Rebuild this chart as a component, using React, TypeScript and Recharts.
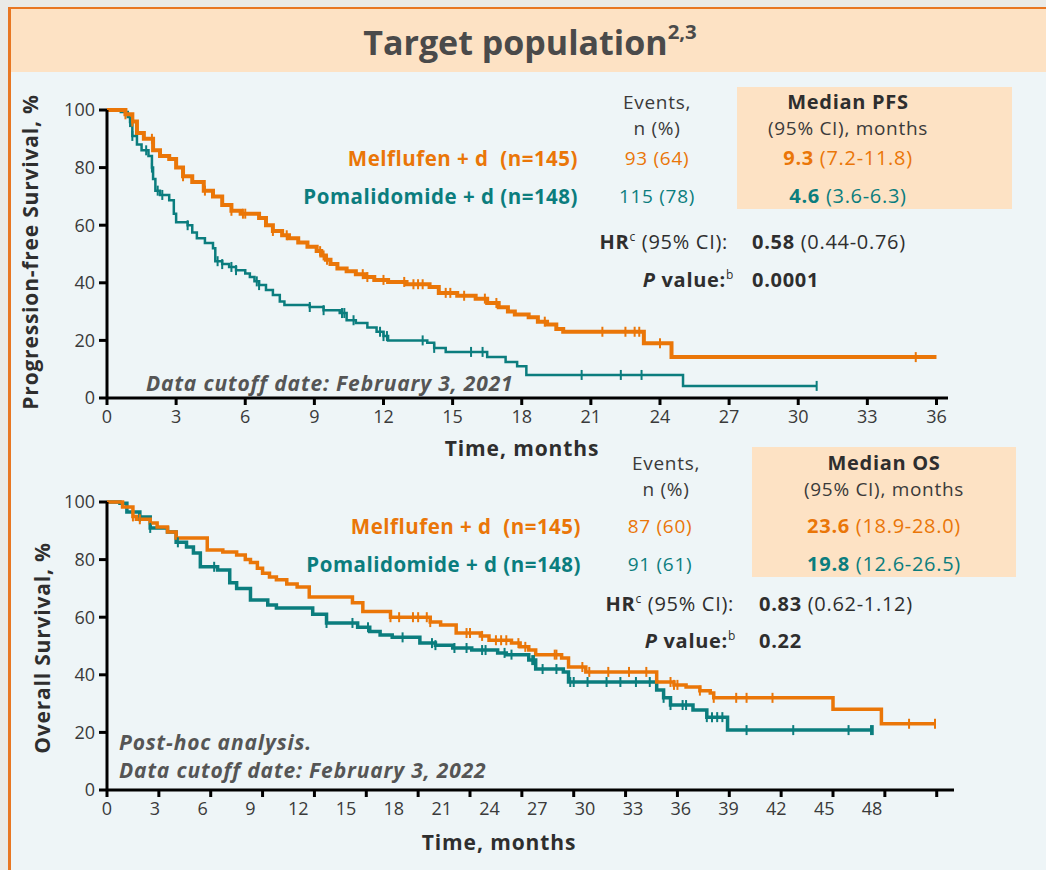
import React from 'react';
import { LineChart, Line, XAxis, YAxis } from 'recharts';

const ORANGE = '#ea7608';
const TEAL = '#0b7d7e';
const INK = '#2e2e2e';
const GREY = '#555555';
const FONT = '"Open Sans", "Noto Sans", sans-serif';

// PFS (cutoff Feb 3, 2021): [month, % surviving]
const pfsMel = [
  [0, 100], [0.8, 98.5], [1.1, 96], [1.3, 92], [1.6, 90], [2.0, 86], [2.3, 84], [2.7, 83], [3.0, 80],
  [3.3, 77], [3.7, 75], [4.2, 72], [4.6, 70], [5.0, 67], [5.4, 65], [5.8, 64], [6.6, 62.5], [6.9, 60],
  [7.2, 58], [7.6, 56.5], [7.9, 55.5], [8.3, 54], [8.7, 52.5], [9.1, 51], [9.3, 49.5], [9.5, 48],
  [9.7, 46.5], [10.0, 45], [10.4, 44], [10.8, 43], [11.2, 42], [11.6, 41], [12.2, 40.3], [13.0, 39.5],
  [14.0, 38.5], [14.4, 36.5], [15.2, 35.5], [16.0, 34.5], [16.5, 33], [17.0, 31.5], [17.4, 30],
  [17.7, 29], [18.3, 28], [18.7, 26.5], [19.1, 25.5], [19.5, 24], [19.8, 23], [23.3, 19], [24.5, 14.2],
  [36, 14.2],
];
const pfsPom = [
  [0, 100], [0.6, 99.3], [0.9, 97.6], [1.0, 95.8], [1.1, 91], [1.3, 88], [1.5, 86], [1.8, 84],
  [1.95, 80], [2.0, 76], [2.1, 72], [2.3, 70.5], [2.7, 68.7], [2.9, 64], [3.0, 61], [3.5, 60],
  [3.7, 57.5], [3.9, 55.5], [4.25, 53.8], [4.6, 52], [4.7, 47.5], [5.0, 46.5], [5.3, 45.5], [5.6, 44.4],
  [6.0, 43.2], [6.2, 42], [6.4, 40.5], [6.6, 39.2], [6.9, 37.5], [7.2, 35.8], [7.5, 33.5], [7.7, 32.3],
  [8.8, 31.6], [9.4, 30.5], [10.1, 29.5], [10.4, 27], [10.8, 26], [11.3, 24.5], [11.7, 23], [12.0, 21.5],
  [12.2, 20], [13.9, 19.2], [14.2, 17.4], [14.7, 16], [16.5, 14.2], [17.3, 12.5], [17.8, 11], [18.2, 8],
  [25.0, 4.2], [30.8, 4.2],
];
const pfsMelCensor = [0.8, 1.1, 1.95, 3.3, 4.25, 5.4, 5.9, 6.0, 7.2, 7.8, 9.25, 9.4, 9.55, 11.1, 11.3, 12.0,
  12.9, 13.3, 13.5, 13.7, 14.7, 14.9, 15.5, 16.4, 16.9, 19.0, 21.5, 22.5, 22.9, 23.1, 24.0, 35.1];
const pfsPomCensor = [1.0, 1.1, 1.7, 1.95, 2.2, 2.4, 3.5, 4.8, 5.0, 5.4, 5.6, 6.5, 6.6, 8.8, 9.4, 10.2, 10.3,
  10.7, 11.85, 12.0, 12.15, 13.7, 14.2, 15.8, 16.3, 20.6, 22.3, 23.2, 30.8];

// OS (cutoff Feb 3, 2022)
const osMel = [
  [0, 100], [0.9, 98.3], [1.5, 95], [1.7, 94], [2.5, 92.7], [2.9, 91.3], [3.5, 89.6], [4.0, 87.5],
  [5.8, 83.3], [6.7, 82.6], [7.5, 81.6], [8.0, 80], [8.3, 79], [8.7, 77], [9.0, 75.3], [9.4, 74],
  [9.8, 73], [10.4, 71.5], [11.0, 70.5], [11.7, 67], [14.2, 65], [14.8, 62], [16.4, 60], [18.7, 58.3],
  [19.3, 57.3], [20.2, 54.5], [21.6, 53.5], [22.1, 52], [23.4, 51], [23.9, 49.7], [24.4, 48.6],
  [24.8, 47], [26.3, 45.8], [26.7, 42.7], [27.7, 41], [31.8, 37.5], [32.8, 36.5], [33.5, 35.8],
  [34.3, 34.5], [34.9, 33.7], [35.1, 32], [42.0, 28], [44.8, 23], [47.9, 23],
];
const osPom = [
  [0, 100], [0.75, 99.6], [1.15, 96.5], [1.9, 94.8], [2.5, 91], [3.5, 89.6], [4.0, 86], [4.6, 84.4],
  [5.0, 82.3], [5.4, 77.5], [6.4, 76.4], [7.1, 72], [7.5, 70], [8.3, 66], [9.3, 64.2], [9.8, 63.2],
  [11.9, 61], [12.7, 58], [14.5, 56.5], [15.2, 55], [15.8, 53.8], [16.5, 53], [18.1, 51], [19.0, 50.3],
  [20.0, 49.3], [21.1, 48.6], [22.6, 47.6], [23.1, 47], [24.4, 45.1], [24.8, 42], [26.4, 41],
  [26.7, 37.5], [31.8, 34.7], [32.2, 32], [32.6, 29.5], [33.9, 27.8], [34.7, 25.3], [35.9, 20.8],
  [44.3, 20.8],
];
const osMelCensor = [1.5, 1.9, 16.4, 16.9, 17.7, 18.0, 18.5, 18.7, 20.8, 21.0, 21.7, 22.5, 22.8, 23.1, 23.8,
  24.2, 25.9, 26.0, 27.5, 27.9, 29.0, 30.2, 31.2, 32.6, 32.8, 33.0, 34.3, 35.1, 36.4, 37.0, 38.5, 46.4, 47.9];
const osPomCensor = [1.9, 2.5, 4.1, 6.2, 12.7, 14.2, 15.1, 17.1, 18.8, 19.0, 20.1, 20.8, 21.7, 21.9, 23.0,
  23.4, 24.6, 24.7, 25.2, 26.0, 26.8, 27.0, 27.8, 28.9, 29.7, 30.6, 31.4, 32.2, 32.6, 33.3, 33.5, 34.7,
  35.0, 35.3, 35.6, 37.0, 39.7, 42.9, 44.2, 44.3];

const pfsTicks = [0, 3, 6, 9, 12, 15, 18, 21, 24, 27, 30, 33, 36];
const osTicks = [0, 3, 6, 9, 12, 15, 18, 21, 24, 27, 30, 33, 36, 39, 42, 45, 48];
const yTicks = [0, 20, 40, 60, 80, 100];

const toRows = (curve: number[][]) => curve.map(([t, s]) => ({ t, s }));

// censor marks sit on the step curve
const censorRows = (curve: number[][], times: number[]) =>
  times.map((t) => {
    let s = curve[0][1];
    for (const [ct, cs] of curve) if (ct <= t) s = cs;
    return { t, s };
  });

const censorDot = (color: string) => (p: any) => (
  <line key={`c-${p.index}`} x1={p.cx} x2={p.cx} y1={p.cy - 5} y2={p.cy + 5} stroke={color} strokeWidth={2} />
);

const tickStyle = { fill: '#3a3a3a', fontSize: 18, fontFamily: FONT };
const axisLine = { stroke: '#000', strokeWidth: 3 };
const tickLine = { stroke: '#000', strokeWidth: 3 };

// the OS time labels in the source sit a little left of their tick marks
const OsTick = (p: any) => (
  <text x={107 + (p.x - 107) * 0.922} y={p.y} dy="0.71em" textAnchor="middle" {...tickStyle}>
    {p.payload.value}
  </text>
);

const Txt = ({ x, y, anchor = 'start', size = 19, weight = 400, color = INK, italic = false, ls = 0.7, children }: any) => {
  const tx = anchor === 'middle' ? '-50%' : anchor === 'end' ? '-100%' : '0';
  return (
    <div
      style={{
        position: 'absolute', left: x, top: y, transform: `translate(${tx}, -50%)`, fontSize: size,
        fontWeight: weight, color, fontStyle: italic ? 'italic' : 'normal', whiteSpace: 'nowrap',
        lineHeight: 1, fontFamily: FONT, letterSpacing: ls,
      }}
    >
      {children}
    </div>
  );
};

const Sup = ({ children }: any) => (
  <sup style={{ fontSize: '0.6em', fontWeight: 400, verticalAlign: '0.7em', lineHeight: 0 }}>{children}</sup>
);

const YTitle = ({ x, y, children }: any) => (
  <div
    style={{
      position: 'absolute', left: x, top: y, transform: 'translate(-50%, -50%) rotate(-90deg)',
      fontSize: 21, fontWeight: 700, color: INK, whiteSpace: 'nowrap', fontFamily: FONT, lineHeight: 1,
      letterSpacing: 0.8,
    }}
  >
    {children}
  </div>
);

export default function App() {
  return (
    <div style={{ position: 'absolute', left: 0, top: 0, width: 1046, height: 870, background: '#eaeae6', overflow: 'hidden' }}>
      <div
        style={{
          position: 'absolute', left: 8, top: 7, right: 0, bottom: 0, background: '#eef5f7',
          borderLeft: '3px solid #e87722', borderTop: '2px solid #e87722',
        }}
      />
      <div style={{ position: 'absolute', left: 11, top: 9, right: 0, height: 63, background: '#fde2c4' }} />
      <div
        style={{
          position: 'absolute', left: 530, top: 42, transform: 'translate(-50%, -50%)', fontSize: 34,
          fontWeight: 700, color: '#4a4a4a', fontFamily: FONT, whiteSpace: 'nowrap', lineHeight: 1,
        }}
      >
        Target population<sup style={{ fontSize: '0.6em', verticalAlign: '0.8em', lineHeight: 0 }}>2,3</sup>
      </div>

      <div style={{ position: 'absolute', left: 737, top: 87, width: 275, height: 122, background: '#fde2c4' }} />
      <div style={{ position: 'absolute', left: 752, top: 447, width: 264, height: 130, background: '#fde2c4' }} />

      <div style={{ position: 'absolute', left: 0, top: 0 }}>
        <LineChart width={1046} height={440} margin={{ top: 110, right: 98, bottom: 12, left: 47 }}>
          <XAxis
            type="number" dataKey="t" domain={[0, 36.5]} ticks={pfsTicks} allowDataOverflow
            axisLine={axisLine} tickLine={tickLine} tickSize={7} tickMargin={5} tick={tickStyle} height={30}
          />
          <YAxis
            type="number" domain={[0, 100]} ticks={yTicks} width={60}
            axisLine={axisLine} tickLine={tickLine} tickSize={8} tickMargin={4} tick={tickStyle}
          />
          <Line data={toRows(pfsPom)} dataKey="s" type="stepAfter" stroke={TEAL} strokeWidth={2.5} dot={false} isAnimationActive={false} />
          <Line data={toRows(pfsMel)} dataKey="s" type="stepAfter" stroke={ORANGE} strokeWidth={4} dot={false} isAnimationActive={false} />
          <Line data={censorRows(pfsPom, pfsPomCensor)} dataKey="s" stroke="none" dot={censorDot(TEAL)} isAnimationActive={false} />
          <Line data={censorRows(pfsMel, pfsMelCensor)} dataKey="s" stroke="none" dot={censorDot(ORANGE)} isAnimationActive={false} />
        </LineChart>
      </div>

      <div style={{ position: 'absolute', left: 0, top: 440 }}>
        <LineChart width={1046} height={430} margin={{ top: 62, right: 92, bottom: 50, left: 47 }}>
          <XAxis
            type="number" dataKey="t" domain={[0, 49]} ticks={osTicks} allowDataOverflow
            axisLine={axisLine} tickLine={tickLine} tickSize={7} tickMargin={5} tick={<OsTick />} height={30}
          />
          <YAxis
            type="number" domain={[0, 100]} ticks={yTicks} width={60}
            axisLine={axisLine} tickLine={tickLine} tickSize={8} tickMargin={4} tick={tickStyle}
          />
          <Line data={toRows(osPom)} dataKey="s" type="stepAfter" stroke={TEAL} strokeWidth={3.5} dot={false} isAnimationActive={false} />
          <Line data={toRows(osMel)} dataKey="s" type="stepAfter" stroke={ORANGE} strokeWidth={3.5} dot={false} isAnimationActive={false} />
          <Line data={censorRows(osPom, osPomCensor)} dataKey="s" stroke="none" dot={censorDot(TEAL)} isAnimationActive={false} />
          <Line data={censorRows(osMel, osMelCensor)} dataKey="s" stroke="none" dot={censorDot(ORANGE)} isAnimationActive={false} />
        </LineChart>
      </div>

      <YTitle x={30} y={252}>Progression-free Survival, %</YTitle>
      <YTitle x={42} y={648}>Overall Survival, %</YTitle>
      <Txt x={522} y={448} anchor="middle" size={21} weight={700} ls={0.9}>Time, months</Txt>
      <Txt x={499} y={842} anchor="middle" size={21} weight={700} ls={0.9}>Time, months</Txt>

      {/* PFS panel text */}
      <Txt x={657} y={102} anchor="middle" color="#3a3a3a">Events,</Txt>
      <Txt x={657} y={128} anchor="middle" color="#3a3a3a">n (%)</Txt>
      <Txt x={848} y={102} anchor="middle" size={20} weight={700}>Median PFS</Txt>
      <Txt x={848} y={128} anchor="middle" color="#3a3a3a">(95% CI), months</Txt>
      <Txt x={578} y={158} anchor="end" size={20.5} weight={700} ls={0.5} color={ORANGE}>Melflufen + d&nbsp; (n=145)</Txt>
      <Txt x={578} y={196} anchor="end" size={20.5} weight={700} ls={0.5} color={TEAL}>Pomalidomide + d (n=148)</Txt>
      <Txt x={657} y={158} anchor="middle" color={ORANGE}>93 (64)</Txt>
      <Txt x={657} y={196} anchor="middle" color={TEAL}>115 (78)</Txt>
      <Txt x={848} y={158} anchor="middle" size={20} color={ORANGE}><b>9.3</b> (7.2-11.8)</Txt>
      <Txt x={848} y={196} anchor="middle" size={20} color={TEAL}><b>4.6</b> (3.6-6.3)</Txt>
      <Txt x={728} y={242} anchor="end" size={20}><b>HR</b><Sup>c</Sup> (95% CI):</Txt>
      <Txt x={752} y={242} size={20}><b>0.58</b> (0.44-0.76)</Txt>
      <Txt x={734} y={280} anchor="end" size={20} weight={700}><i>P</i> value:<Sup>b</Sup></Txt>
      <Txt x={752} y={280} size={20} weight={700}>0.0001</Txt>
      <Txt x={146} y={383} size={21} weight={700} ls={0.85} italic color={GREY}>Data cutoff date: February 3, 2021</Txt>

      {/* OS panel text */}
      <Txt x={666} y={463} anchor="middle" color="#3a3a3a">Events,</Txt>
      <Txt x={666} y={489} anchor="middle" color="#3a3a3a">n (%)</Txt>
      <Txt x={884} y={463} anchor="middle" size={20} weight={700}>Median OS</Txt>
      <Txt x={884} y={489} anchor="middle" color="#3a3a3a">(95% CI), months</Txt>
      <Txt x={581} y={526} anchor="end" size={20.5} weight={700} ls={0.5} color={ORANGE}>Melflufen + d&nbsp; (n=145)</Txt>
      <Txt x={581} y={564} anchor="end" size={20.5} weight={700} ls={0.5} color={TEAL}>Pomalidomide + d (n=148)</Txt>
      <Txt x={660} y={526} anchor="middle" color={ORANGE}>87 (60)</Txt>
      <Txt x={660} y={564} anchor="middle" color={TEAL}>91 (61)</Txt>
      <Txt x={884} y={526} anchor="middle" size={20} color={ORANGE}><b>23.6</b> (18.9-28.0)</Txt>
      <Txt x={884} y={564} anchor="middle" size={20} color={TEAL}><b>19.8</b> (12.6-26.5)</Txt>
      <Txt x={734} y={604} anchor="end" size={20}><b>HR</b><Sup>c</Sup> (95% CI):</Txt>
      <Txt x={759} y={604} size={20}><b>0.83</b> (0.62-1.12)</Txt>
      <Txt x={736} y={641} anchor="end" size={20} weight={700}><i>P</i> value:<Sup>b</Sup></Txt>
      <Txt x={759} y={641} size={20} weight={700}>0.22</Txt>
      <Txt x={119} y={742} size={21} weight={700} ls={0.85} italic color={GREY}>Post-hoc analysis.</Txt>
      <Txt x={119} y={770} size={21} weight={700} ls={0.85} italic color={GREY}>Data cutoff date: February 3, 2022</Txt>
    </div>
  );
}
